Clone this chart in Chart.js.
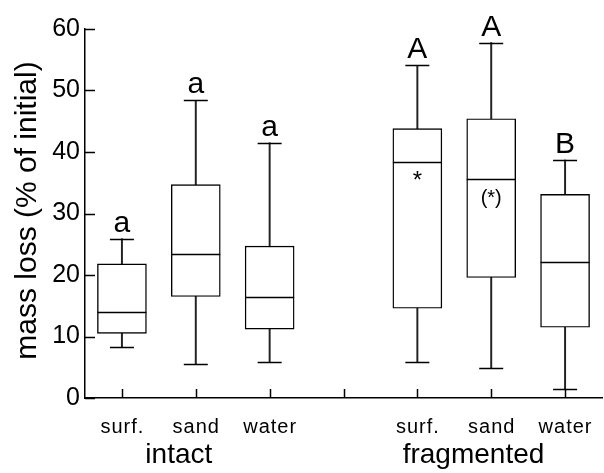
<!DOCTYPE html>
<html>
<head>
<meta charset="utf-8">
<script src="https://cdn.jsdelivr.net/npm/chart.js@4"></script>
<style>
  html, body { margin: 0; padding: 0; background: #fff; }
  canvas { display: block; }
</style>
</head>
<body>
<canvas id="c" width="604" height="473"></canvas>
<script>
// ---- data ----
const categories   = ['surf.', 'sand', 'water', '', 'surf.', 'sand', 'water'];
const whiskerLow   = [8.3, 5.5, 5.9, null, 5.9, 4.9, 1.5];
const q1           = [10.5, 16.5, 11.2, null, 14.6, 19.6, 11.5];
const median       = [14.0, 23.4, 16.5, null, 38.4, 35.6, 22.1];
const q3           = [21.8, 34.7, 24.7, null, 43.8, 45.4, 33.1];
const whiskerHigh  = [25.9, 48.4, 41.5, null, 54.1, 57.8, 38.7];
const letters      = ['a', 'a', 'a', '', 'A', 'A', 'B'];
const medianMarks  = ['', '', '', '', '*', '(*)', ''];
const groupLabels  = ['intact', 'fragmented'];
const groupCenters = [0.77, 4.76];
const yTickValues  = [0, 10, 20, 30, 40, 50, 60];
const yTitle       = 'mass loss (% of initial)';

const FONT = '"Liberation Sans", Arial, sans-serif';

const boxData = q1.map((v, i) => v == null ? null : [v, q3[i]]);
const whiskerData = whiskerLow.map((v, i) => v == null ? null : [v, whiskerHigh[i]]);

const boxPlugin = {
  id: 'boxExtras',
  afterDatasetsDraw(chart) {
    const ctx = chart.ctx;
    const x = chart.scales.x, y = chart.scales.y;
    const ca = chart.chartArea;
    ctx.save();
    ctx.strokeStyle = '#000';
    ctx.fillStyle = '#000';
    categories.forEach((c, i) => {
      if (median[i] == null) return;
      const cx = x.getPixelForValue(i);
      ctx.lineWidth = 1.4;
      ctx.beginPath();
      const capHalf = 12;
      [whiskerLow[i], whiskerHigh[i]].forEach(v => {
        const py = Math.round(y.getPixelForValue(v)) + 0.5;
        ctx.moveTo(cx - capHalf, py); ctx.lineTo(cx + capHalf, py);
      });
      const my = Math.round(y.getPixelForValue(median[i])) + 0.5;
      ctx.moveTo(cx - 24.5, my); ctx.lineTo(cx + 24.5, my);
      ctx.stroke();
      ctx.textAlign = 'center';
      ctx.textBaseline = 'alphabetic';
      ctx.font = '30px ' + FONT;
      ctx.fillText(letters[i], cx, y.getPixelForValue(whiskerHigh[i]) - 7);
      if (medianMarks[i]) {
        ctx.font = (medianMarks[i] === '*' ? '24px ' : '20px ') + FONT;
        ctx.fillText(medianMarks[i], cx, y.getPixelForValue(median[i]) + (medianMarks[i] === '*' ? 26 : 25));
      }
    });
    ctx.lineWidth = 1.5;
    ctx.beginPath();
    yTickValues.forEach(v => {
      const py = Math.round(y.getPixelForValue(v)) + 0.5;
      ctx.moveTo(ca.left, py); ctx.lineTo(ca.left + 10, py);
    });
    categories.forEach((c, i) => {
      const px = Math.round(x.getPixelForValue(i)) + 0.5;
      ctx.moveTo(px, ca.bottom); ctx.lineTo(px, ca.bottom - 9);
    });
    ctx.stroke();
    ctx.font = '20px ' + FONT;
    ctx.textAlign = 'center';
    ctx.textBaseline = 'middle';
    try { ctx.letterSpacing = '1px'; } catch (e) {}
    categories.forEach((c, i) => {
      if (c) ctx.fillText(c, x.getPixelForValue(i) + 0.5, 427);
    });
    try { ctx.letterSpacing = '0px'; } catch (e) {}
    ctx.font = '28px ' + FONT;
    groupLabels.forEach((g, k) => {
      ctx.fillText(g, x.getPixelForValue(groupCenters[k]), 455);
    });
    ctx.translate(28, (ca.top + ca.bottom) / 2 - 3);
    ctx.rotate(-Math.PI / 2);
    ctx.font = '30px ' + FONT;
    ctx.fillText(yTitle, 0, 0);
    ctx.restore();
  }
};

new Chart(document.getElementById('c'), {
  type: 'bar',
  data: {
    labels: categories,
    datasets: [
      {
        label: 'box',
        data: boxData,
        backgroundColor: '#fff',
        borderColor: '#000',
        borderWidth: 1.4,
        borderSkipped: false,
        barThickness: 49,
        grouped: false,
        order: 0
      },
      {
        label: 'whisker',
        data: whiskerData,
        backgroundColor: '#222',
        borderWidth: 0,
        barThickness: 1.3,
        grouped: false,
        order: 1
      }
    ]
  },
  options: {
    responsive: false,
    animation: false,
    devicePixelRatio: 1,
    layout: { padding: { top: 29, right: 2, left: 0, bottom: 0 } },
    plugins: { legend: { display: false }, tooltip: { enabled: false } },
    scales: {
      x: {
        type: 'category',
        offset: true,
        grid: { display: false, drawTicks: false },
        border: { display: true, color: '#000', width: 1.5 },
        ticks: { display: false },
        afterFit(s) { s.height = 75; }
      },
      y: {
        min: 0, max: 60,
        afterBuildTicks(s) { s.ticks = yTickValues.map(v => ({ value: v })); },
        grid: { display: false, drawTicks: false },
        border: { display: true, color: '#000', width: 1.5 },
        ticks: { color: '#000', font: { size: 25, family: FONT }, padding: 5 },
        afterFit(s) { s.width = 85; }
      }
    }
  },
  plugins: [boxPlugin]
});
</script>
</body>
</html>
